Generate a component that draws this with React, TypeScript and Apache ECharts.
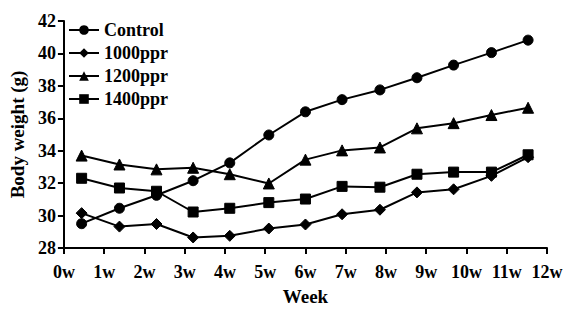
import React, { useEffect, useRef } from "react";
import * as echarts from "echarts";

const weeks = [0.44, 1.38, 2.3, 3.21, 4.12, 5.09, 6.0, 6.91, 7.85, 8.77, 9.68, 10.62, 11.53];
const xTicks = [0, 1, 2, 3, 4, 5, 6, 7, 8, 9, 10, 11, 12];
const control = [29.5, 30.45, 31.25, 32.15, 33.25, 34.97, 36.4, 37.15, 37.75, 38.5, 39.28, 40.05, 40.82];
const ppr1000 = [30.15, 29.32, 29.48, 28.65, 28.75, 29.2, 29.45, 30.08, 30.36, 31.43, 31.62, 32.45, 33.6];
const ppr1200 = [33.7, 33.15, 32.85, 32.95, 32.55, 31.98, 33.45, 34.02, 34.2, 35.38, 35.7, 36.2, 36.65];
const ppr1400 = [32.3, 31.7, 31.5, 30.22, 30.45, 30.8, 31.02, 31.8, 31.75, 32.55, 32.68, 32.68, 33.75];

const seriesNames = ["Control", "1000ppr", "1200ppr", "1400ppr"];
const seriesData = [control, ppr1000, ppr1200, ppr1400];
const symbols = ["circle", "diamond", "triangle", "rect"];
const symbolSizes = [10, 11, 11, 10];

const FONT = "Liberation Serif, Times New Roman, serif";

export default function App() {
  const ref = useRef<HTMLDivElement>(null);
  useEffect(() => {
    if (!ref.current) return;
    const chart = echarts.init(ref.current, undefined, { renderer: "svg" });
    chart.setOption({
      animation: false,
      backgroundColor: "#ffffff",
      grid: { left: 61, right: 26, top: 21, bottom: 52, containLabel: false },
      legend: {
        orient: "vertical",
        left: 68,
        top: 21,
        padding: 0,
        itemWidth: 30,
        itemHeight: 12,
        itemGap: 5,
        data: seriesNames,
        textStyle: {
          fontFamily: FONT,
          fontWeight: "bold",
          fontSize: 18,
          lineHeight: 18,
          color: "#000",
        },
      },
      xAxis: {
        type: "value",
        min: 0,
        max: 12,
        interval: 1,
        name: "Week",
        nameLocation: "middle",
        nameGap: 39,
        nameTextStyle: { fontFamily: FONT, fontWeight: "bold", fontSize: 19, color: "#000" },
        axisLine: { lineStyle: { color: "#000", width: 2 } },
        axisTick: { show: true, length: 6, lineStyle: { color: "#000", width: 2 } },
        axisLabel: {
          margin: 15,
          fontFamily: FONT,
          fontWeight: "bold",
          fontSize: 18,
          color: "#000",
          formatter: (v: number) => (xTicks.includes(v) ? `${v}w` : ""),
        },
        splitLine: { show: false },
      },
      yAxis: {
        type: "value",
        min: 28,
        max: 42,
        interval: 2,
        name: "Body weight (g)",
        nameLocation: "middle",
        nameGap: 29,
        nameTextStyle: { fontFamily: FONT, fontWeight: "bold", fontSize: 19, color: "#000" },
        axisLine: { show: true, lineStyle: { color: "#000", width: 2 } },
        axisTick: { show: true, length: 6, lineStyle: { color: "#000", width: 2 } },
        axisLabel: { margin: 8, fontFamily: FONT, fontWeight: "bold", fontSize: 18, color: "#000" },
        splitLine: { show: false },
      },
      series: seriesNames.map((name, i) => ({
        name,
        type: "line",
        data: weeks.map((w, j) => [w, seriesData[i][j]]),
        symbol: symbols[i],
        symbolSize: symbolSizes[i],
        showAllSymbol: true,
        lineStyle: { color: "#000", width: 2 },
        itemStyle: { color: "#000", borderColor: "#000" },
        emphasis: { disabled: true },
      })),
    });
    return () => chart.dispose();
  }, []);
  return (
    <div
      ref={ref}
      style={{ position: "fixed", left: 0, top: 0, width: 573, height: 311, background: "#fff" }}
    />
  );
}
